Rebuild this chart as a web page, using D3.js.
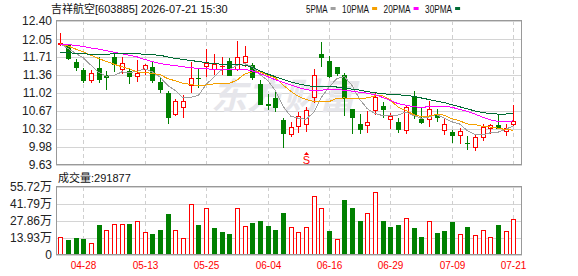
<!DOCTYPE html>
<html>
<head>
<meta charset="utf-8">
<script src="https://cdn.jsdelivr.net/npm/d3@7"></script>
<style>
  body { margin: 0; background: #fff; }
  text { font-family: 'Liberation Sans', 'Noto Sans CJK SC', sans-serif; }
</style>
</head>
<body>
<div id="chart"></div>
<script>
// daily K-line, 吉祥航空 603885
const dates = ['04-23', '04-24', '04-27', '04-28', '04-29', '04-30', '05-06', '05-07', '05-08', '05-11',
  '05-12', '05-13', '05-14', '05-15', '05-18', '05-19', '05-20', '05-21', '05-22', '05-25',
  '05-26', '05-27', '05-28', '05-29', '06-01', '06-02', '06-03', '06-04', '06-05', '06-08',
  '06-09', '06-10', '06-11', '06-12', '06-15', '06-16', '06-17', '06-18', '06-22', '06-23',
  '06-24', '06-25', '06-26', '06-29', '06-30', '07-01', '07-02', '07-03', '07-06', '07-07',
  '07-08', '07-09', '07-10', '07-13', '07-14', '07-15', '07-16', '07-17', '07-20', '07-21'];

const opens = [11.93, 11.95, 11.61, 11.46, 11.24, 11.49, 11.36, 11.70, 11.45, 11.43,
  11.32, 11.45, 11.52, 11.23, 11.02, 10.60, 10.73, 11.15, 11.30, 11.51,
  11.46, 11.51, 11.63, 11.46, 11.59, 11.55, 11.18, 10.80, 10.91, 10.49,
  10.20, 10.37, 10.39, 10.92, 11.77, 11.63, 11.51, 11.37, 10.70, 10.42,
  10.38, 10.66, 10.76, 10.49, 10.45, 10.29, 10.95, 10.51, 10.49, 10.61,
  10.28, 10.27, 10.18, 10.05, 9.95, 10.14, 10.33, 10.39, 10.26, 10.39];

const highs = [12.16, 11.96, 11.66, 11.49, 11.45, 11.71, 11.44, 11.81, 11.71, 11.48,
  11.65, 11.58, 11.61, 11.30, 11.05, 10.89, 10.97, 11.61, 11.49, 11.86,
  11.76, 11.70, 11.68, 12.01, 11.91, 11.59, 11.27, 10.99, 11.06, 10.53,
  10.45, 10.64, 10.75, 11.47, 12.00, 11.73, 11.51, 11.40, 10.70, 10.61,
  10.66, 11.04, 10.85, 10.63, 10.53, 10.79, 11.06, 10.73, 10.86, 10.70,
  10.53, 10.30, 10.35, 10.18, 10.20, 10.42, 10.42, 10.59, 10.42, 10.78];

const lows = [11.92, 11.65, 11.44, 11.20, 11.20, 11.20, 11.07, 11.41, 11.39, 11.18,
  11.22, 11.37, 11.20, 11.01, 10.42, 10.58, 10.54, 11.02, 11.11, 11.32,
  11.37, 11.37, 11.34, 11.43, 11.51, 11.27, 10.78, 10.69, 10.65, 9.96,
  10.16, 10.25, 10.26, 10.83, 11.51, 11.30, 11.35, 10.57, 10.23, 10.23,
  10.24, 10.60, 10.54, 10.32, 10.24, 10.23, 10.51, 10.42, 10.37, 10.45,
  10.21, 10.06, 10.04, 9.92, 9.89, 10.09, 10.23, 10.32, 10.18, 10.38];

const closes = [11.97, 11.66, 11.49, 11.24, 11.40, 11.26, 11.30, 11.56, 11.59, 11.32,
  11.40, 11.55, 11.25, 11.07, 10.54, 10.87, 10.87, 11.31, 11.28, 11.59,
  11.57, 11.53, 11.35, 11.70, 11.73, 11.30, 10.78, 10.77, 10.73, 10.22,
  10.36, 10.58, 10.68, 11.37, 11.68, 11.32, 11.38, 10.89, 10.54, 10.30,
  10.45, 10.94, 10.68, 10.58, 10.30, 10.75, 10.57, 10.44, 10.70, 10.54,
  10.42, 10.18, 10.28, 10.04, 10.16, 10.37, 10.39, 10.33, 10.35, 10.47];

// volume in 万 shares
const volumes = [14.7, 12.2, 13.9, 13.0, 9.8, 24.5, 20.1, 25.8, 25.0, 25.3,
  27.7, 18.5, 17.1, 20.4, 34.0, 20.1, 13.6, 42.1, 24.5, 38.9,
  22.0, 18.8, 17.1, 38.9, 23.4, 26.1, 27.7, 23.6, 20.4, 34.2,
  22.8, 18.5, 22.8, 48.7, 38.9, 19.6, 13.0, 44.8, 38.9, 27.7,
  34.8, 51.9, 27.7, 22.8, 24.5, 30.7, 22.0, 14.7, 27.5, 17.9,
  19.6, 26.9, 16.9, 22.8, 16.0, 20.1, 14.7, 24.5, 19.3, 29.19];

const ma5 = [11.96, 11.87, 11.78, 11.69, 11.55, 11.41, 11.34, 11.35, 11.42, 11.41,
  11.43, 11.48, 11.42, 11.32, 11.16, 11.06, 10.92, 10.93, 10.97, 11.18,
  11.32, 11.46, 11.46, 11.55, 11.58, 11.52, 11.37, 11.26, 11.06, 10.76,
  10.57, 10.53, 10.51, 10.64, 10.93, 11.13, 11.29, 11.33, 11.16, 10.89,
  10.71, 10.62, 10.58, 10.59, 10.59, 10.65, 10.58, 10.53, 10.55, 10.60,
  10.53, 10.46, 10.42, 10.29, 10.22, 10.21, 10.25, 10.26, 10.32, 10.38];

const ma10 = [11.96, 11.92, 11.86, 11.81, 11.74, 11.68, 11.62, 11.57, 11.52, 11.48,
  11.42, 11.41, 11.39, 11.37, 11.29, 11.25, 11.20, 11.18, 11.15, 11.17,
  11.19, 11.19, 11.20, 11.26, 11.38, 11.42, 11.42, 11.36, 11.31, 11.17,
  11.05, 10.95, 10.89, 10.85, 10.85, 10.85, 10.91, 10.92, 10.90, 10.91,
  10.92, 10.96, 10.96, 10.88, 10.74, 10.68, 10.60, 10.56, 10.57, 10.60,
  10.59, 10.52, 10.48, 10.42, 10.41, 10.37, 10.36, 10.34, 10.31, 10.30];

const ma20 = [11.955, 11.95, 11.93, 11.91, 11.88, 11.86, 11.83, 11.80, 11.77, 11.74,
  11.71, 11.66, 11.62, 11.58, 11.56, 11.54, 11.52, 11.50, 11.49, 11.48,
  11.47, 11.47, 11.47, 11.47, 11.47, 11.44, 11.39, 11.33, 11.27, 11.22,
  11.17, 11.12, 11.08, 11.06, 11.07, 11.08, 11.08, 11.07, 11.05, 11.03,
  11.01, 10.98, 10.93, 10.87, 10.81, 10.78, 10.75, 10.74, 10.75, 10.76,
  10.76, 10.74, 10.70, 10.66, 10.61, 10.55, 10.50, 10.47, 10.46, 10.48];

const ma30 = [11.79, 11.79, 11.78, 11.77, 11.76, 11.76, 11.76, 11.77, 11.78, 11.78,
  11.77, 11.76, 11.75, 11.74, 11.71, 11.68, 11.66, 11.64, 11.62, 11.60,
  11.58, 11.57, 11.56, 11.56, 11.55, 11.51, 11.44, 11.38, 11.33, 11.28,
  11.23, 11.19, 11.16, 11.14, 11.14, 11.14, 11.13, 11.11, 11.09, 11.07,
  11.04, 11.02, 11.00, 10.99, 10.98, 10.97, 10.95, 10.92, 10.89, 10.86,
  10.83, 10.79, 10.75, 10.71, 10.67, 10.64, 10.62, 10.61, 10.61, 10.63];

const priceTicks = [12.40, 12.05, 11.71, 11.36, 11.02, 10.67, 10.32, 9.98, 9.63];
const volumeTicks = [0, 13.93, 27.86, 41.79, 55.72];
const dateTicks = ['04-28', '05-13', '05-25', '06-04', '06-16', '06-29', '07-09', '07-21'];
const maNames = ['5PMA', '10PMA', '20PMA', '30PMA'];
const sellSignalDate = '06-11';
const lastVolume = 291877;

const RED = '#ff0000';
const GREEN = '#008000';
const maColors = ['#a0a0a0', '#f5a000', '#ff00ff', '#006b34'];
const maSeries = [ma5, ma10, ma20, ma30];

const width = 578;
const height = 276;
const plot = { left: 56, right: 522, top: 21, bottom: 165 };
const volPlot = { top: 187, bottom: 255 };

const svg = d3.select('#chart').append('svg')
  .attr('width', width)
  .attr('height', height);

const xScale = d3.scalePoint()
  .domain(dates)
  .range([56.4, 517.2])
  .padding(0.5);

const yScale = d3.scaleLinear()
  .domain([9.63, 12.40])
  .range([plot.bottom, plot.top]);

const vScale = d3.scaleLinear()
  .domain([0, 55.72])
  .range([volPlot.bottom, volPlot.top]);

const px = d => Math.round(xScale(d));
const snap = v => Math.round(v) + 0.5;

// ---- grids
function drawGrid(ticks, scale, top, bottom) {
  const g = svg.append('g').attr('class', 'grid');
  g.selectAll('line.h')
    .data(ticks)
  .enter().append('line')
    .attr('class', 'h')
    .attr('x1', plot.left)
    .attr('x2', plot.right)
    .attr('y1', d => snap(scale(d)))
    .attr('y2', d => snap(scale(d)))
    .attr('stroke', '#d4d4d4');
  g.selectAll('line.v')
    .data(dateTicks)
  .enter().append('line')
    .attr('class', 'v')
    .attr('x1', d => px(d) + 0.5)
    .attr('x2', d => px(d) + 0.5)
    .attr('y1', top)
    .attr('y2', bottom)
    .attr('stroke', '#cfcfcf')
    .attr('stroke-dasharray', '4,3');
}

drawGrid(priceTicks, yScale, plot.top, plot.bottom);
drawGrid(volumeTicks, vScale, volPlot.top, volPlot.bottom);

// watermark
svg.append('text')
  .attr('x', 283)
  .attr('y', 109)
  .attr('text-anchor', 'middle')
  .attr('font-size', '36px')
  .attr('font-style', 'italic')
  .attr('font-weight', 'bold')
  .attr('fill', '#e6e6eb')
  .style('font-family', "'Noto Sans CJK SC', sans-serif")
  .text('东方财富');

// ---- candles
const candles = svg.append('g').attr('class', 'candles')
  .selectAll('g')
  .data(dates.map((d, i) => ({
    date: d, open: opens[i], high: highs[i], low: lows[i], close: closes[i],
  })))
.enter().append('g');

candles.append('line')
  .attr('x1', d => px(d.date) + 0.5)
  .attr('x2', d => px(d.date) + 0.5)
  .attr('y1', d => Math.round(yScale(d.high)))
  .attr('y2', d => Math.round(yScale(d.low)))
  .attr('stroke', d => (d.close >= d.open ? RED : GREEN));

candles.append('rect')
  .attr('shape-rendering', 'crispEdges')
  .each(function (d) {
    const up = d.close >= d.open;
    const yTop = Math.round(yScale(Math.max(d.open, d.close)));
    const yBot = Math.round(yScale(Math.min(d.open, d.close)));
    const h = Math.max(1, yBot - yTop);
    const sel = d3.select(this);
    if (up && h > 2) {
      sel.attr('x', px(d.date) - 1.5)
        .attr('y', yTop + 0.5)
        .attr('width', 4)
        .attr('height', h - 1)
        .attr('fill', '#fff')
        .attr('stroke', RED);
    } else {
      sel.attr('x', px(d.date) - 2)
        .attr('y', yTop)
        .attr('width', 5)
        .attr('height', h)
        .attr('fill', up ? RED : GREEN);
    }
  });

// ---- moving averages
const maLine = d3.line()
  .x((d, i) => xScale(dates[i]))
  .y(d => yScale(d));

svg.append('g').attr('class', 'ma')
  .selectAll('path')
  .data(maSeries)
.enter().append('path')
  .attr('d', maLine)
  .attr('fill', 'none')
  .attr('stroke', (d, i) => maColors[i])
  .attr('stroke-width', 1)
  .attr('shape-rendering', 'crispEdges');

// sell signal marker
const sx = px(sellSignalDate) + 0.5;
const marker = svg.append('g').attr('class', 'signal').attr('fill', RED);
marker.append('path')
  .attr('d', `M${sx},${plot.bottom - 13} l-2.5,3 h5 z`)
  .attr('stroke', 'none');
marker.append('text')
  .attr('x', sx)
  .attr('y', plot.bottom - 1)
  .attr('text-anchor', 'middle')
  .attr('font-size', '11px')
  .text('S');

// ---- volume bars
svg.append('g').attr('class', 'volume')
  .selectAll('rect')
  .data(volumes)
.enter().append('rect')
  .attr('shape-rendering', 'crispEdges')
  .each(function (v, i) {
    const up = i === 0 ? closes[i] >= opens[i] : closes[i] >= closes[i - 1];
    const yTop = Math.round(vScale(v));
    const sel = d3.select(this);
    if (up) {
      sel.attr('x', px(dates[i]) - 1.5)
        .attr('y', yTop + 0.5)
        .attr('width', 4)
        .attr('height', volPlot.bottom - yTop - 1)
        .attr('fill', '#fff')
        .attr('stroke', RED);
    } else {
      sel.attr('x', px(dates[i]) - 2)
        .attr('y', yTop)
        .attr('width', 5)
        .attr('height', volPlot.bottom - yTop)
        .attr('fill', GREEN);
    }
  });

// ---- frames
[[plot.top, plot.bottom], [volPlot.top, volPlot.bottom]].forEach(([t, b]) => {
  svg.append('rect')
    .attr('x', plot.left + 0.5)
    .attr('y', t - 0.5)
    .attr('width', plot.right - plot.left - 1)
    .attr('height', b - t)
    .attr('fill', 'none')
    .attr('stroke', '#999');
});

// ---- axis labels
svg.append('g').attr('class', 'y axis')
  .selectAll('text')
  .data(priceTicks)
.enter().append('text')
  .attr('x', 52)
  .attr('y', d => yScale(d))
  .attr('dy', '0.36em')
  .attr('text-anchor', 'end')
  .attr('font-size', '12px')
  .attr('fill', '#222')
  .text(d => d.toFixed(2));

svg.append('g').attr('class', 'v axis')
  .selectAll('text')
  .data(volumeTicks)
.enter().append('text')
  .attr('x', 52)
  .attr('y', d => vScale(d))
  .attr('dy', '0.36em')
  .attr('text-anchor', 'end')
  .attr('font-size', '12px')
  .attr('fill', '#222')
  .text(d => (d === 0 ? '0' : `${d.toFixed(2)}万`));

svg.append('g').attr('class', 'x axis')
  .selectAll('text')
  .data(dateTicks)
.enter().append('text')
  .attr('x', d => px(d) + 0.5)
  .attr('y', 269)
  .attr('text-anchor', 'middle')
  .attr('font-size', '10px')
  .attr('fill', RED)
  .text(d => d);

// ---- titles
svg.append('text')
  .attr('x', 51)
  .attr('y', 13)
  .attr('font-size', '11px')
  .attr('fill', '#111')
  .text('吉祥航空[603885] 2026-07-21 15:30');

svg.append('text')
  .attr('x', 58)
  .attr('y', 182)
  .attr('font-size', '11px')
  .attr('fill', '#111')
  .text(`成交量:${lastVolume}`);

// legend
let cursor = 306;
maNames.forEach((name, i) => {
  const w = name.length * 5.4;
  svg.append('text')
    .attr('x', cursor)
    .attr('y', 13)
    .attr('font-size', '11px')
    .attr('fill', '#111')
    .attr('textLength', w)
    .attr('lengthAdjust', 'spacingAndGlyphs')
    .text(name);
  svg.append('rect')
    .attr('x', cursor + w + 3)
    .attr('y', 7)
    .attr('width', 5)
    .attr('height', 3)
    .attr('fill', maColors[i]);
  cursor += w + 14.5;
});
</script>
</body>
</html>
